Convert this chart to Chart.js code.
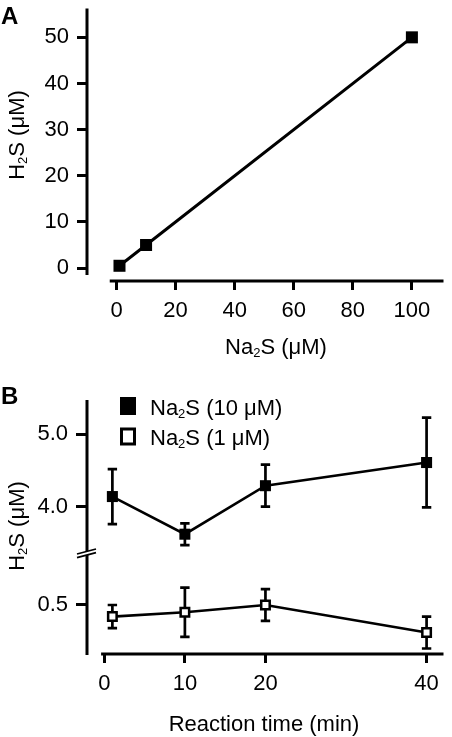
<!DOCTYPE html>
<html>
<head>
<meta charset="utf-8">
<title>H2S from Na2S</title>
<script src="https://cdn.jsdelivr.net/npm/chart.js@4.4.1/dist/chart.umd.min.js"></script>
<style>
  html, body { margin: 0; padding: 0; background: #fff; }
  #wrap { position: relative; width: 452px; height: 737px; }
  canvas { position: absolute; left: 0; }
  #chartA { top: 0; }
  #chartB { top: 370px; }
</style>
</head>
<body>
<div id="wrap">
  <canvas id="chartA" width="452" height="370"></canvas>
  <canvas id="chartB" width="452" height="367"></canvas>
</div>
<script>
/* =========================
   DATA
========================= */
// panel A: calibration
const naConc = [1, 10, 100];
const h2sMeasured = [0.5, 5, 50];
const ticksAx = [0, 20, 40, 60, 80, 100];
const ticksAy = [0, 10, 20, 30, 40, 50];

// panel B: time course
const reactionTime = [1, 10, 20, 40];
const h2sHigh = [4.14, 3.62, 4.29, 4.61];
const h2sHighErr = [0.38, 0.15, 0.29, 0.62];
const h2sLow = [0.42, 0.45, 0.50, 0.31];
const h2sLowErr = [0.08, 0.17, 0.11, 0.11];
const ticksBx = [0, 10, 20, 40];
const ticksBupper = [4.0, 5.0];
const ticksBlower = [0.5];

const FONT = "'Liberation Sans', Arial, Helvetica, sans-serif";
Chart.defaults.font.family = FONT;
Chart.defaults.font.size = 22;
Chart.defaults.color = '#000';

const toPoints = (xs, ys) => xs.map((x, i) => ({ x: x, y: ys[i] }));
const fixTicks = list => s => { s.ticks = list.map(v => ({ value: v })); };

/* =========================
   TEXT WITH SUBSCRIPT 2
========================= */
// draws text, turning "₂" into a small lowered "2"; y is the cap centre
function drawRich(ctx, text, x, y, size, align) {
  const sub = Math.round(size * 0.6);
  const parts = text.split('\u2082');
  const pieces = [];
  parts.forEach((p, i) => {
    if (i > 0) pieces.push({ t: '2', s: sub, dy: size * 0.12 });
    if (p) pieces.push({ t: p, s: size, dy: 0 });
  });
  let w = 0;
  pieces.forEach(p => { ctx.font = p.s + 'px ' + FONT; p.w = ctx.measureText(p.t).width; w += p.w; });
  let cx = align === 'center' ? x - w / 2 : x;
  const base = y + size * 0.358;
  ctx.textAlign = 'left';
  ctx.textBaseline = 'alphabetic';
  pieces.forEach(p => {
    ctx.font = p.s + 'px ' + FONT;
    ctx.fillText(p.t, cx, base + p.dy);
    cx += p.w;
  });
}

/* =========================
   PLUGINS
========================= */
const errorBars = {
  id: 'errorBars',
  beforeDatasetsDraw(chart) {
    const ctx = chart.ctx;
    chart.data.datasets.forEach((ds, i) => {
      if (!ds.errors) return;
      const meta = chart.getDatasetMeta(i);
      const ys = chart.scales[meta.yAxisID];
      ctx.save();
      ctx.strokeStyle = '#000';
      ctx.lineWidth = 2.7;
      meta.data.forEach((pt, j) => {
        const v = ds.data[j].y, e = ds.errors[j];
        const t = ys.getPixelForValue(v + e), b = ys.getPixelForValue(v - e);
        ctx.beginPath();
        ctx.moveTo(pt.x, t); ctx.lineTo(pt.x, b);
        ctx.moveTo(pt.x - 4.7, t); ctx.lineTo(pt.x + 4.7, t);
        ctx.moveTo(pt.x - 4.7, b); ctx.lineTo(pt.x + 4.7, b);
        ctx.stroke();
      });
      ctx.restore();
    });
  }
};

// detached axis lines, axis break, titles, panel letter, legend
const decorations = {
  id: 'decorations',
  afterDraw(chart, args, o) {
    const ctx = chart.ctx;
    const area = chart.chartArea;
    const x = chart.scales.x;
    ctx.save();
    ctx.strokeStyle = '#000';
    ctx.fillStyle = '#000';
    ctx.lineWidth = 3;

    // x axis
    ctx.beginPath();
    ctx.moveTo(x.getPixelForValue(o.xLineFrom), area.bottom);
    ctx.lineTo(area.right, area.bottom);
    ctx.stroke();

    // y axis
    if (o.broken) {
      const up = chart.scales.yHigh, lo = chart.scales.yLow;
      const b = up.bottom, L = area.left;
      ctx.beginPath();
      ctx.moveTo(L, up.top); ctx.lineTo(L, b);
      ctx.moveTo(L, lo.top); ctx.lineTo(L, lo.bottom + 1);
      ctx.stroke();
      ctx.fillStyle = '#fff';
      ctx.beginPath();
      ctx.moveTo(L - 10, b + 2); ctx.lineTo(L + 9, b - 3);
      ctx.lineTo(L + 9, b + 0.7); ctx.lineTo(L - 10, b + 5.7);
      ctx.closePath();
      ctx.fill();
      ctx.lineWidth = 1.8;
      ctx.beginPath();
      ctx.moveTo(L - 10, b + 2); ctx.lineTo(L + 9, b - 3);
      ctx.moveTo(L - 10, b + 5.7); ctx.lineTo(L + 9, b + 0.7);
      ctx.stroke();
      ctx.fillStyle = '#000';
    } else {
      const y = chart.scales.y;
      ctx.beginPath();
      ctx.moveTo(area.left, area.top);
      ctx.lineTo(area.left, y.getPixelForValue(o.yLineTo));
      ctx.stroke();
    }

    // titles
    drawRich(ctx, o.xTitle, o.xTitlePos[0], o.xTitlePos[1], 22, 'center');
    ctx.save();
    ctx.translate(o.yTitlePos[0], o.yTitlePos[1]);
    ctx.rotate(-Math.PI / 2);
    drawRich(ctx, o.yTitle, 0, 0, 22, 'center');
    ctx.restore();

    // panel letter
    ctx.font = 'bold 24px ' + FONT;
    ctx.textAlign = 'left';
    ctx.textBaseline = 'alphabetic';
    ctx.fillText(o.letter, 1, o.letterBase);

    // legend
    if (o.legend) {
      chart.data.datasets.forEach((ds, i) => {
        const top = o.legend.top + i * o.legend.step;
        if (ds.pointBackgroundColor === '#000') {
          ctx.fillRect(o.legend.x, top, 16, 18);
        } else {
          ctx.lineWidth = 3;
          ctx.strokeRect(o.legend.x + 1.5, top + 1.5, 13, 15);
        }
        drawRich(ctx, ds.label, o.legend.x + 30, top + 10, 22, 'left');
      });
    }
    ctx.restore();
  }
};

const tickGrid = len => ({
  display: true, drawOnChartArea: false, drawTicks: true,
  tickLength: len, tickWidth: 3, tickColor: '#000'
});

/* =========================
   PANEL A
========================= */
new Chart(document.getElementById('chartA'), {
  type: 'scatter',
  data: {
    datasets: [{
      data: toPoints(naConc, h2sMeasured),
      showLine: true,
      borderColor: '#000',
      borderWidth: 3,
      pointStyle: 'rect',
      pointRadius: 8.5,
      pointBackgroundColor: '#000',
      pointBorderWidth: 0,
      clip: false
    }]
  },
  options: {
    responsive: false,
    animation: false,
    layout: { padding: { top: 7, right: 4, bottom: 0, left: 0 } },
    plugins: {
      legend: { display: false },
      tooltip: { enabled: false },
      decorations: {
        xLineFrom: -2.3, yLineTo: -1.5,
        xTitle: 'Na\u2082S (\u03bcM)', xTitlePos: [276, 346],
        yTitle: 'H\u2082S (\u03bcM)', yTitlePos: [16, 135],
        letter: 'A', letterBase: 23.5
      }
    },
    scales: {
      x: {
        type: 'linear', min: -10, max: 110.7,
        afterBuildTicks: fixTicks(ticksAx),
        afterFit: s => { s.height = 89; s.paddingLeft = 0; s.paddingRight = 0; },
        border: { display: false },
        grid: tickGrid(9),
        ticks: { padding: 8, maxRotation: 0, callback: v => String(v) }
      },
      y: {
        type: 'linear', min: -2.8, max: 56.25,
        afterBuildTicks: fixTicks(ticksAy),
        afterFit: s => { s.width = 87; s.paddingTop = 0; s.paddingBottom = 0; },
        border: { display: false },
        grid: tickGrid(10),
        ticks: { padding: 8, callback: v => String(v) }
      }
    }
  },
  plugins: [decorations]
});

/* =========================
   PANEL B
========================= */
new Chart(document.getElementById('chartB'), {
  type: 'scatter',
  data: {
    datasets: [{
      label: 'Na\u2082S (10 \u03bcM)',
      data: toPoints(reactionTime, h2sHigh),
      errors: h2sHighErr,
      yAxisID: 'yHigh',
      showLine: true,
      borderColor: '#000',
      borderWidth: 2.6,
      pointStyle: 'rect',
      pointRadius: 7.8,
      pointBackgroundColor: '#000',
      pointBorderWidth: 0,
      clip: false
    }, {
      label: 'Na\u2082S (1 \u03bcM)',
      data: toPoints(reactionTime, h2sLow),
      errors: h2sLowErr,
      yAxisID: 'yLow',
      showLine: true,
      borderColor: '#000',
      borderWidth: 2.6,
      pointStyle: 'rect',
      pointRadius: 6,
      pointBackgroundColor: '#fff',
      pointBorderColor: '#000',
      pointBorderWidth: 2.5,
      clip: false
    }]
  },
  options: {
    responsive: false,
    animation: false,
    layout: { padding: { top: 30, right: 5, bottom: 0, left: 0 } },
    plugins: {
      legend: { display: false },
      tooltip: { enabled: false },
      decorations: {
        xLineFrom: -0.4, broken: true,
        xTitle: 'Reaction time (min)', xTitlePos: [264, 353],
        yTitle: 'H\u2082S (\u03bcM)', yTitlePos: [16, 156],
        letter: 'B', letterBase: 33.5,
        legend: { x: 120, top: 27, step: 30.5 }
      }
    },
    scales: {
      x: {
        type: 'linear', min: -2.15, max: 42.1,
        afterBuildTicks: fixTicks(ticksBx),
        afterFit: s => { s.height = 83; s.paddingLeft = 0; s.paddingRight = 0; },
        border: { display: false },
        grid: tickGrid(9),
        ticks: { padding: 8, maxRotation: 0, callback: v => String(v) }
      },
      yLow: {
        type: 'linear', position: 'left', stack: 'h2s', stackWeight: 102, weight: 0,
        min: 0.162, max: 0.8655,
        afterBuildTicks: fixTicks(ticksBlower),
        afterFit: s => { s.width = 87; s.paddingTop = 0; s.paddingBottom = 0; },
        border: { display: false },
        grid: tickGrid(11),
        ticks: { padding: 8, callback: v => v.toFixed(1) }
      },
      yHigh: {
        type: 'linear', position: 'left', stack: 'h2s', stackWeight: 152, weight: 1,
        min: 3.374, max: 5.474,
        afterBuildTicks: fixTicks(ticksBupper),
        afterFit: s => { s.width = 87; s.paddingTop = 0; s.paddingBottom = 0; },
        border: { display: false },
        grid: tickGrid(11),
        ticks: { padding: 8, callback: v => v.toFixed(1) }
      }
    }
  },
  plugins: [errorBars, decorations]
});
</script>
</body>
</html>
